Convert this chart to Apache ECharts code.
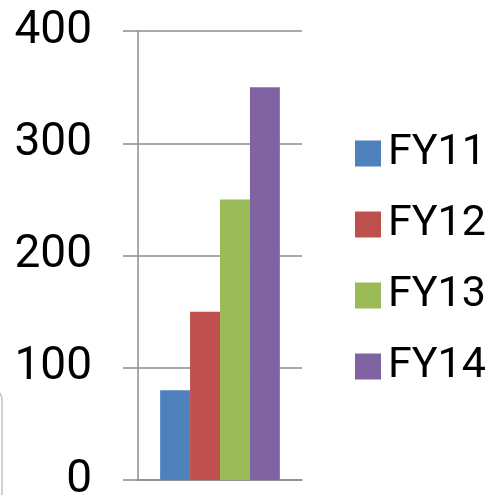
<!DOCTYPE html>
<html>
<head>
<meta charset="utf-8">
<script src="https://cdn.jsdelivr.net/npm/echarts@6/dist/echarts.min.js"></script>
<style>
  html, body { margin: 0; padding: 0; background: #ffffff; overflow: hidden; }
  #chart { width: 492px; height: 495px; }
</style>
</head>
<body>
<div id="chart"></div>
<script>
// Fiscal-year values, one bar per year inside a single category
const categories = [''];
const seriesNames = ['FY11', 'FY12', 'FY13', 'FY14'];
const seriesValues = [80, 150, 250, 350];
const seriesColors = ['#4F81BD', '#C0504D', '#9BBB59', '#8064A2'];
const yTicks = [0, 100, 200, 300, 400];

const fontFamily = 'Roboto, sans-serif';
const chart = echarts.init(document.getElementById('chart'), null, { renderer: 'canvas' });

chart.setOption({
  animation: false,
  backgroundColor: '#ffffff',
  grid: { left: 138, top: 31, width: 164, height: 449, containLabel: false, outerBoundsMode: 'none' },
  legend: {
    orient: 'vertical',
    left: 350,
    top: 127,
    itemWidth: 26,
    itemHeight: 26,
    itemGap: 28,
    icon: 'rect',
    textStyle: { fontFamily: fontFamily, fontSize: 43, color: '#000000', padding: [0, 0, 0, 2] },
    data: seriesNames
  },
  xAxis: {
    type: 'category',
    data: categories,
    axisLine: { show: true, lineStyle: { color: '#8c8c8c', width: 1.5 } },
    axisTick: { show: false },
    axisLabel: { show: false }
  },
  yAxis: {
    type: 'value',
    min: yTicks[0],
    max: yTicks[yTicks.length - 1],
    interval: 100,
    axisLine: { show: true, lineStyle: { color: '#8c8c8c', width: 1.5 } },
    axisTick: { show: true, length: 15, lineStyle: { color: '#8c8c8c', width: 1.5 } },
    splitLine: { show: true, lineStyle: { color: '#8c8c8c', width: 1.5 } },
    axisLabel: { fontFamily: fontFamily, fontSize: 46, color: '#000000', margin: 46 }
  },
  series: seriesNames.map((name, i) => ({
    name: name,
    type: 'bar',
    barGap: '0%',
    barCategoryGap: '27%',
    itemStyle: { color: seriesColors[i] },
    data: [seriesValues[i]]
  })),
  graphic: [{
    // faint rounded edge along the left border
    type: 'rect',
    shape: { x: -30, y: 388, width: 32, height: 200, r: 12 },
    style: { fill: 'none', stroke: '#c9bfbf', lineWidth: 1.5 },
    silent: true
  }]
});
</script>
</body>
</html>
